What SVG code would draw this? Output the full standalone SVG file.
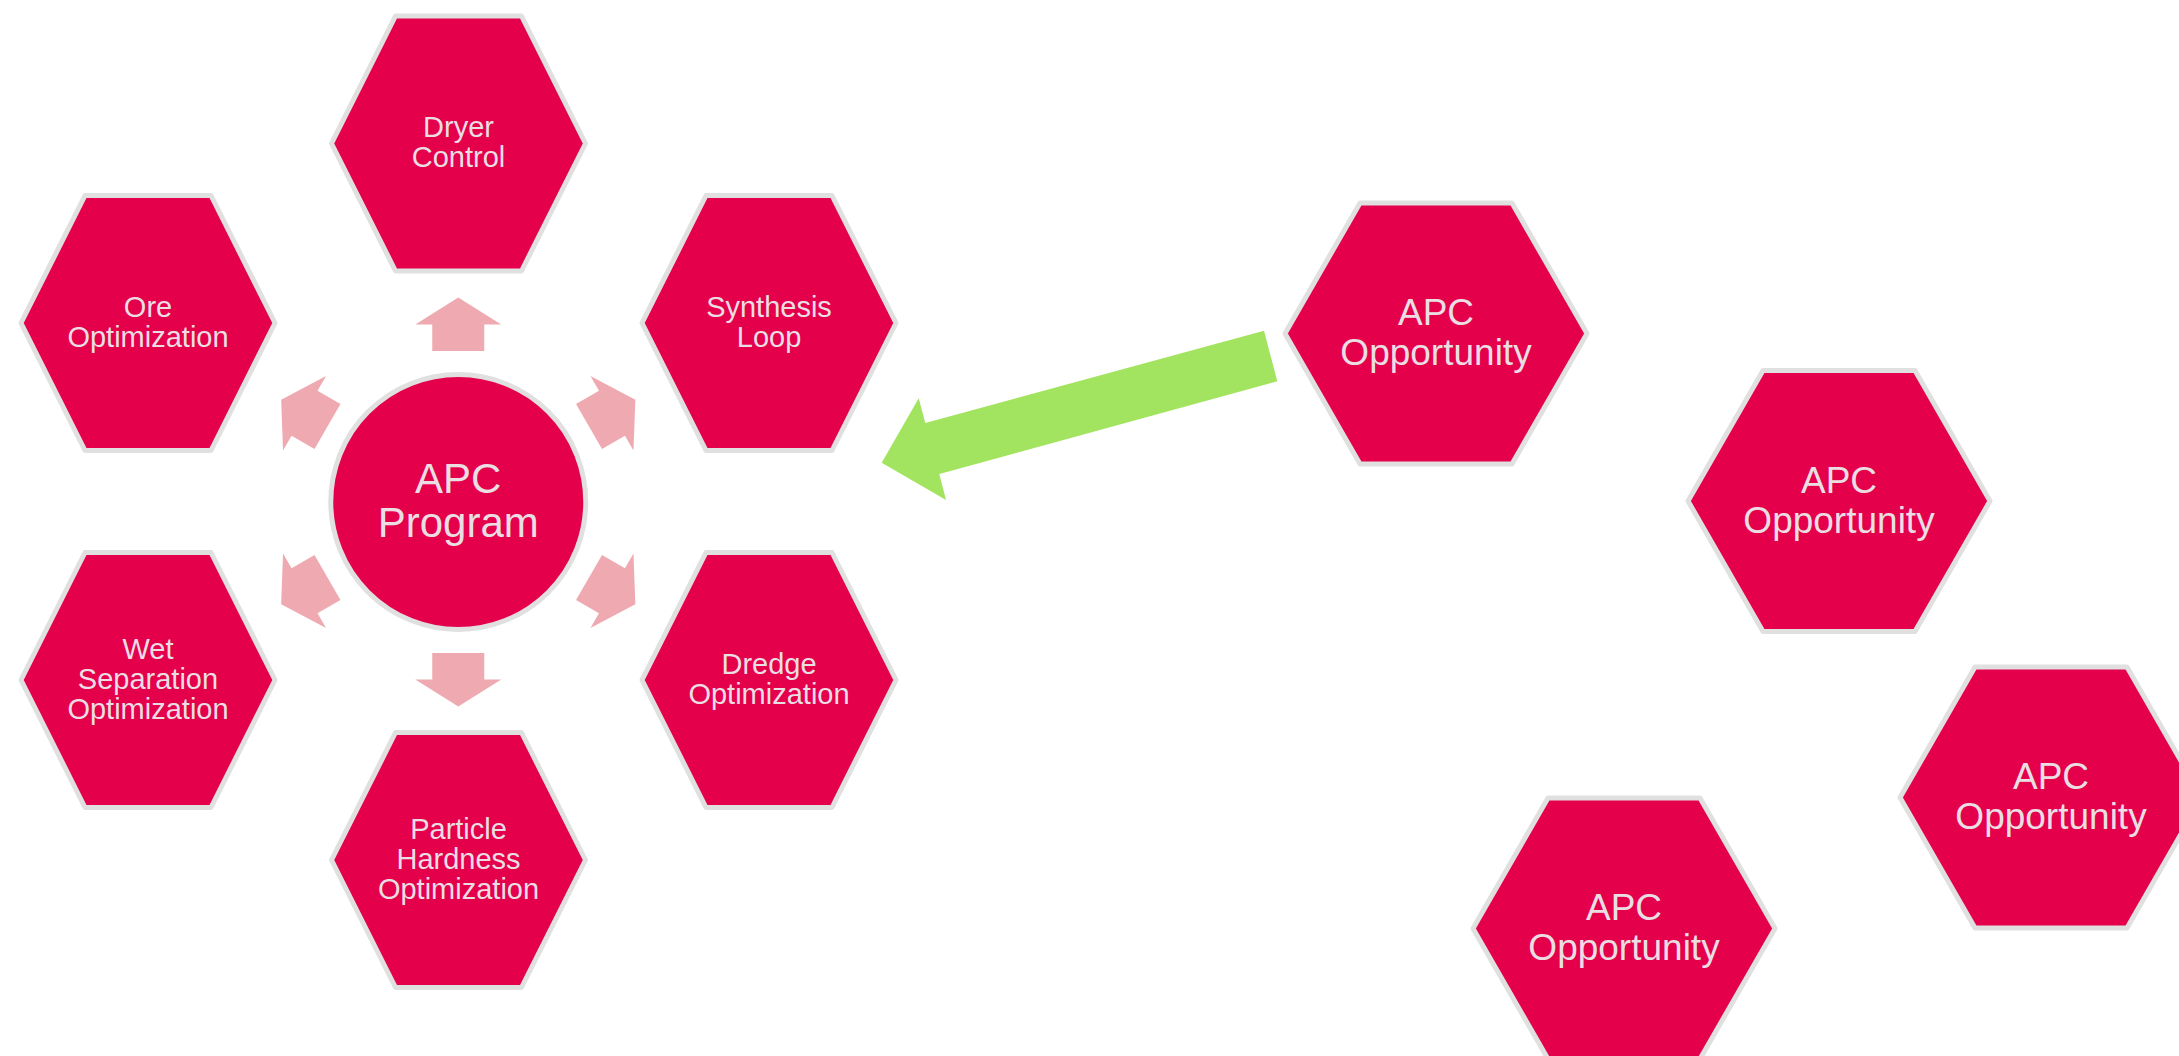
<svg xmlns="http://www.w3.org/2000/svg" xmlns:xlink="http://www.w3.org/1999/xlink" width="2179" height="1056" viewBox="0 0 2179 1056">
<style>
.hex{fill:#E5004C;stroke:#E0E0E0;stroke-width:5;stroke-linejoin:round}
.t{font-family:"Liberation Sans",Arial,sans-serif;fill:#EBDEE3;text-anchor:middle}
.s{font-size:29px}
.m{font-size:37px}
.l{font-size:42px}
.pink{fill:#EFAAB1}
.green{fill:#A2E35F}
</style>
<defs>
<polygon id="arr" points="151,-26 177.5,-26 177.5,-43 204.5,0 177.5,43 177.5,26 151,26"/>
</defs>
<rect width="2179" height="1056" fill="#FFFFFF"/>
<g id="connectors">
<g class="pink" transform="translate(458.25,502)">
<use xlink:href="#arr" transform="rotate(-90)"/>
<use xlink:href="#arr" transform="rotate(-30)"/>
<use xlink:href="#arr" transform="rotate(30)"/>
<use xlink:href="#arr" transform="rotate(90)"/>
<use xlink:href="#arr" transform="rotate(150)"/>
<use xlink:href="#arr" transform="rotate(210)"/>
</g>
<polygon class="green" points="1264,330.7 1277.3,381.3 939.3,474 946,500 881.7,462.7 918.7,398.3 925.3,423"/>
</g>
<g id="dryer" transform="translate(458.5,143.5)">
<polygon class="hex" points="-63,-127.5 63,-127.5 127,0 63,127.5 -63,127.5 -127,0"/>
<text class="t s" y="-6.5">Dryer</text><text class="t s" y="23.5">Control</text>
</g>
<g id="ore" transform="translate(148,323)">
<polygon class="hex" points="-63,-127.5 63,-127.5 127,0 63,127.5 -63,127.5 -127,0"/>
<text class="t s" y="-6.5">Ore</text><text class="t s" y="23.5">Optimization</text>
</g>
<g id="synthesis" transform="translate(769,323)">
<polygon class="hex" points="-63,-127.5 63,-127.5 127,0 63,127.5 -63,127.5 -127,0"/>
<text class="t s" y="-6.5">Synthesis</text><text class="t s" y="23.5">Loop</text>
</g>
<g id="wet" transform="translate(148,680)">
<polygon class="hex" points="-63,-127.5 63,-127.5 127,0 63,127.5 -63,127.5 -127,0"/>
<text class="t s" y="-21.5">Wet</text><text class="t s" y="8.5">Separation</text><text class="t s" y="38.5">Optimization</text>
</g>
<g id="dredge" transform="translate(769,680)">
<polygon class="hex" points="-63,-127.5 63,-127.5 127,0 63,127.5 -63,127.5 -127,0"/>
<text class="t s" y="-6.5">Dredge</text><text class="t s" y="23.5">Optimization</text>
</g>
<g id="particle" transform="translate(458.5,860)">
<polygon class="hex" points="-63,-127.5 63,-127.5 127,0 63,127.5 -63,127.5 -127,0"/>
<text class="t s" y="-21.5">Particle</text><text class="t s" y="8.5">Hardness</text><text class="t s" y="38.5">Optimization</text>
</g>
<g id="program" transform="translate(458.25,502)">
<circle class="hex" r="127.5"/>
<text class="t l" y="-9">APC</text><text class="t l" y="35">Program</text>
</g>
<g id="opp1" transform="translate(1436,333.5)">
<polygon class="hex" points="-76,-130.5 76,-130.5 151,0 76,130.5 -76,130.5 -151,0"/>
<text class="t m" y="-8.5">APC</text><text class="t m" y="31.5">Opportunity</text>
</g>
<g id="opp2" transform="translate(1839,501)">
<polygon class="hex" points="-76,-130.5 76,-130.5 151,0 76,130.5 -76,130.5 -151,0"/>
<text class="t m" y="-8.5">APC</text><text class="t m" y="31.5">Opportunity</text>
</g>
<g id="opp3" transform="translate(2051,797.5)">
<polygon class="hex" points="-76,-130.5 76,-130.5 151,0 76,130.5 -76,130.5 -151,0"/>
<text class="t m" y="-8.5">APC</text><text class="t m" y="31.5">Opportunity</text>
</g>
<g id="opp4" transform="translate(1624,928.5)">
<polygon class="hex" points="-76,-130.5 76,-130.5 151,0 76,130.5 -76,130.5 -151,0"/>
<text class="t m" y="-8.5">APC</text><text class="t m" y="31.5">Opportunity</text>
</g>
</svg>
